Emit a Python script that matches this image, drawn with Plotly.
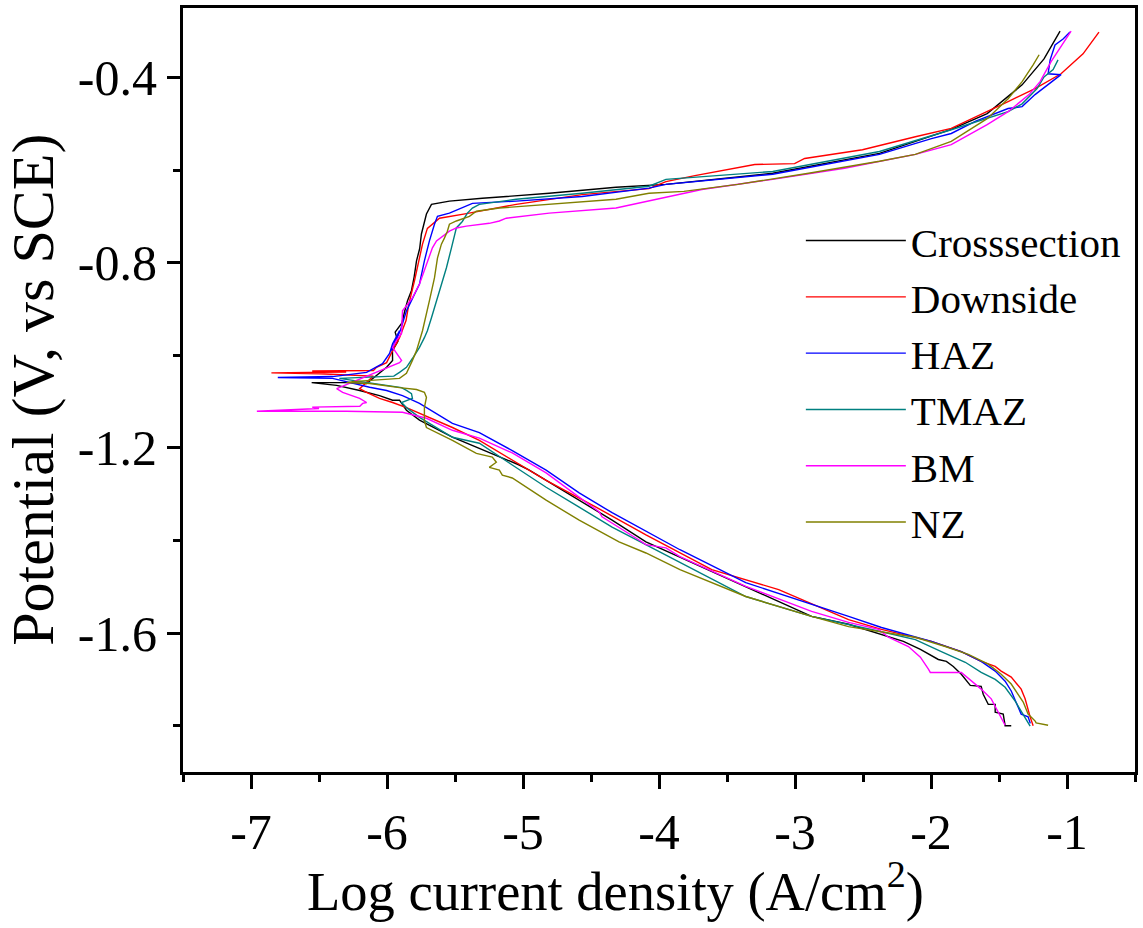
import plotly.graph_objects as go

# ---- data (log current density, potential) ----
names = ["Crosssection", "Downside", "HAZ", "TMAZ", "BM", "NZ"]
colors = ["#000000", "#FF0000", "#0000FF", "#008080", "#FF00FF", "#808000"]

cross_x = [-1.41, -1.455, -1.469, -1.528, -1.528, -1.579, -1.616, -1.631, -1.711, -1.777, -1.836, -1.887,
           -1.946, -2.078, -2.203, -2.606, -2.878, -3.612, -4.096, -4.345, -4.587, -4.954, -5.028, -5.519,
           -5.761, -5.857, -5.908, -5.959, -6.055, -6.201, -6.37, -6.554, -6.3, -6.15, -6.003, -5.959,
           -5.96, -5.92, -5.94, -5.89, -5.87, -5.849, -5.82, -5.80, -5.783, -5.76, -5.747, -5.71,
           -5.673, -5.541, -5.299, -4.807, -4.316, -3.949, -3.164, -2.379, -1.851, -1.587, -1.330,
           -1.169, -1.051]
cross_y = [-1.800, -1.800, -1.775, -1.771, -1.754, -1.754, -1.732, -1.715, -1.713, -1.689, -1.672, -1.661,
           -1.657, -1.635, -1.618, -1.581, -1.564, -1.468, -1.403, -1.356, -1.313, -1.248, -1.237, -1.177,
           -1.140, -1.119, -1.097, -1.097, -1.087, -1.076, -1.065, -1.059, -1.059, -1.061, -1.026, -1.011,
           -0.990, -0.970, -0.950, -0.930, -0.905, -0.882, -0.860, -0.830, -0.796, -0.770, -0.738, -0.695,
           -0.674, -0.667, -0.661, -0.650, -0.637, -0.631, -0.607, -0.564, -0.512, -0.478, -0.416,
           -0.360, -0.300]

down_x = [-1.249, -1.271, -1.308, -1.337, -1.410, -1.484, -1.528, -1.631, -1.777, -1.997, -2.364, -2.606,
          -3.120, -3.612, -4.096, -4.463, -4.830, -5.321, -5.519, -5.857, -5.959, -6.055, -6.150, -6.201,
          -6.10, -6.50, -6.85, -6.30, -6.55, -6.10, -6.077, -6.003, -5.959, -5.908, -5.86, -5.84, -5.798,
          -5.77, -5.739, -5.703, -5.614, -5.416, -5.050, -4.565, -4.074, -3.949, -3.736, -3.296, -3.003,
          -2.929, -2.504, -2.115, -1.851, -1.433, -1.235, -1.044, -0.882, -0.765]
down_y = [-1.800, -1.781, -1.742, -1.721, -1.695, -1.682, -1.672, -1.661, -1.640, -1.618, -1.592, -1.571,
          -1.506, -1.463, -1.388, -1.328, -1.270, -1.184, -1.156, -1.113, -1.102, -1.093, -1.080, -1.072,
          -1.045, -1.040, -1.038, -1.036, -1.034, -1.033, -1.026, -1.016, -0.990, -0.962, -0.925, -0.890,
          -0.839, -0.800, -0.760, -0.726, -0.704, -0.694, -0.674, -0.653, -0.640, -0.625, -0.612, -0.588,
          -0.586, -0.575, -0.556, -0.528, -0.510, -0.452, -0.424, -0.392, -0.349, -0.302]

haz_x = [-1.27, -1.286, -1.337, -1.374, -1.410, -1.455, -1.528, -1.631, -1.777, -1.997, -2.364, -2.606,
         -2.878, -3.362, -3.846, -4.345, -4.587, -4.830, -5.079, -5.321, -5.519, -5.761, -5.813, -5.886,
         -6.003, -6.128, -6.40, -6.803, -6.40, -6.150, -6.033, -5.981, -5.959, -5.908, -5.967, -5.90,
         -5.857, -5.761, -5.725, -5.688, -5.651, -5.629, -5.541, -5.416, -5.372, -5.050, -4.565, -4.074,
         -3.949, -3.164, -2.379, -1.997, -1.851, -1.675, -1.433, -1.330, -1.235, -1.044, -1.139, -1.124,
         -1.088, -1.029, -0.978]
haz_y = [-1.795, -1.781, -1.775, -1.749, -1.725, -1.704, -1.682, -1.661, -1.640, -1.618, -1.588, -1.564,
         -1.538, -1.491, -1.420, -1.340, -1.297, -1.248, -1.206, -1.167, -1.147, -1.104, -1.097, -1.087,
         -1.076, -1.069, -1.050, -1.048, -1.046, -1.037, -1.018, -0.996, -0.975, -0.947, -0.990, -0.945,
         -0.904, -0.846, -0.796, -0.753, -0.717, -0.700, -0.693, -0.678, -0.672, -0.667, -0.657, -0.639,
         -0.631, -0.609, -0.566, -0.532, -0.521, -0.495, -0.467, -0.463, -0.437, -0.394, -0.392, -0.362,
         -0.330, -0.317, -0.302]

tmaz_x = [-1.271, -1.322, -1.381, -1.455, -1.528, -1.631, -1.748, -1.924, -2.115, -2.364, -2.606, -2.878,
          -3.362, -3.846, -4.345, -4.587, -4.830, -5.079, -5.321, -5.519, -5.761, -5.857, -5.893, -5.813,
          -5.820, -5.857, -5.893, -6.35, -5.95, -5.908, -5.857, -5.813, -5.761, -5.725, -5.703, -5.673,
          -5.614, -5.563, -5.526, -5.504, -5.490, -5.446, -5.409, -5.372, -5.321, -5.050, -4.565, -4.074,
          -3.949, -3.164, -2.379, -1.851, -1.587, -1.433, -1.330, -1.220, -1.169, -1.102, -1.066]
tmaz_y = [-1.801, -1.775, -1.747, -1.717, -1.700, -1.685, -1.663, -1.640, -1.614, -1.597, -1.581, -1.564,
          -1.521, -1.448, -1.371, -1.328, -1.285, -1.237, -1.190, -1.177, -1.134, -1.113, -1.102, -1.093,
          -1.083, -1.076, -1.070, -1.050, -1.045, -1.037, -1.026, -1.007, -0.983, -0.962, -0.947, -0.919,
          -0.861, -0.811, -0.768, -0.738, -0.725, -0.711, -0.693, -0.682, -0.674, -0.663, -0.650, -0.635,
          -0.620, -0.603, -0.560, -0.513, -0.489, -0.474, -0.457, -0.424, -0.399, -0.383, -0.362]

bm_x = [-1.455, -1.491, -1.557, -1.631, -1.704, -1.763, -1.777, -2.005, -2.019, -2.078, -2.166, -2.313,
        -2.386, -2.606, -2.878, -3.362, -3.846, -3.949, -4.096, -4.147, -4.294, -4.419, -4.441, -4.587,
        -4.830, -5.079, -5.321, -5.519, -5.710, -5.886, -6.30, -6.957, -6.50, -6.55, -6.20, -6.179,
        -6.150, -6.201, -6.253, -6.326, -6.370, -5.908, -5.893, -5.930, -5.959, -5.930, -5.893, -5.886,
        -5.813, -5.761, -5.710, -5.666, -5.636, -5.563, -5.541, -5.490, -5.416, -5.248, -5.174, -5.123,
        -4.807, -4.316, -4.074, -3.685, -3.164, -2.636, -2.115, -1.851, -1.587, -1.433, -1.279, -1.198,
        -1.117, -1.014, -0.970]
bm_y = [-1.799, -1.779, -1.742, -1.721, -1.704, -1.689, -1.685, -1.685, -1.678, -1.652, -1.629, -1.609,
        -1.592, -1.577, -1.553, -1.499, -1.435, -1.416, -1.409, -1.399, -1.371, -1.349, -1.338, -1.306,
        -1.254, -1.211, -1.179, -1.162, -1.136, -1.123, -1.121, -1.121, -1.115, -1.112, -1.110, -1.104,
        -1.102, -1.093, -1.087, -1.080, -1.072, -1.016, -1.011, -0.996, -0.983, -0.968, -0.953, -0.904,
        -0.876, -0.846, -0.803, -0.768, -0.753, -0.738, -0.732, -0.725, -0.721, -0.715, -0.710, -0.704,
        -0.693, -0.682, -0.667, -0.642, -0.620, -0.596, -0.566, -0.545, -0.502, -0.474, -0.437, -0.409,
        -0.366, -0.319, -0.300]

nz_x = [-1.139, -1.227, -1.234, -1.286, -1.322, -1.359, -1.410, -1.484, -1.579, -1.726, -1.895, -2.115,
        -2.364, -2.606, -2.878, -3.362, -3.846, -4.096, -4.294, -4.587, -4.830, -5.006, -5.079, -5.152,
        -5.174, -5.248, -5.196, -5.226, -5.343, -5.519, -5.666, -5.710, -5.725, -5.725, -5.710, -5.725,
        -5.783, -5.908, -6.128, -6.297, -6.253, -6.003, -5.908, -5.857, -5.835, -5.813, -5.783, -5.761,
        -5.739, -5.688, -5.651, -5.629, -5.600, -5.578, -5.556, -5.541, -5.490, -5.394, -5.343, -5.174,
        -4.807, -4.316, -4.074, -3.817, -3.421, -2.900, -2.379, -2.115, -1.851, -1.587, -1.433, -1.330,
        -1.249, -1.205]
nz_y = [-1.799, -1.794, -1.790, -1.775, -1.749, -1.732, -1.710, -1.689, -1.667, -1.646, -1.629, -1.609,
        -1.597, -1.586, -1.564, -1.521, -1.463, -1.427, -1.403, -1.356, -1.313, -1.280, -1.265, -1.259,
        -1.248, -1.242, -1.231, -1.220, -1.212, -1.184, -1.162, -1.156, -1.141, -1.113, -1.091, -1.080,
        -1.074, -1.070, -1.061, -1.059, -1.057, -1.052, -1.050, -1.039, -1.026, -1.011, -0.990, -0.968,
        -0.947, -0.882, -0.833, -0.790, -0.760, -0.747, -0.732, -0.717, -0.710, -0.700, -0.689, -0.682,
        -0.674, -0.663, -0.650, -0.646, -0.631, -0.607, -0.581, -0.566, -0.538, -0.489, -0.446, -0.409,
        -0.373, -0.351]

xs = [cross_x, down_x, haz_x, tmaz_x, bm_x, nz_x]
ys = [cross_y, down_y, haz_y, tmaz_y, bm_y, nz_y]

x_tickvals = [-7, -6, -5, -4, -3, -2, -1]
x_ticktext = ["-7", "-6", "-5", "-4", "-3", "-2", "-1"]
y_tickvals = [-1.6, -1.2, -0.8, -0.4]
y_ticktext = ["-1.6", "-1.2", "-0.8", "-0.4"]

x_title = "Log current density (A/cm<sup>2</sup>)"
y_title = "Potential (V, vs SCE)"

FONT = "Liberation Serif, Times New Roman, serif"

fig = go.Figure()
for n, c, x, y in zip(names, colors, xs, ys):
    fig.add_trace(go.Scatter(x=x, y=y, mode="lines", name=n,
                             line=dict(color=c, width=1.4)))

fig.update_layout(
    width=1143, height=928,
    margin=dict(l=183, r=6, t=5, b=156),
    paper_bgcolor="white", plot_bgcolor="white",
    font=dict(family=FONT, color="black"),
    showlegend=True,
    legend=dict(x=0.649, y=0.739, xanchor="left", yanchor="top",
                font=dict(size=41, family=FONT, color="black"),
                bgcolor="rgba(0,0,0,0)", borderwidth=0,
                itemwidth=100, tracegroupgap=0),
    xaxis=dict(range=[-7.5, -0.5], tickmode="array", tickvals=x_tickvals, ticktext=x_ticktext,
               ticks="outside", ticklen=14, tickwidth=2.5, tickcolor="black",
               minor=dict(dtick=0.5, tick0=-7.5, ticks="outside", ticklen=7, tickwidth=2.5, tickcolor="black"),
               showline=True, linewidth=3, linecolor="black", mirror=True,
               showgrid=False, zeroline=False,
               tickfont=dict(size=50, family=FONT, color="black")),
    yaxis=dict(range=[-1.9, -0.25], tickmode="array", tickvals=y_tickvals, ticktext=y_ticktext,
               ticks="outside", ticklen=13, tickwidth=2.5, tickcolor="black",
               minor=dict(dtick=0.2, tick0=-1.8, ticks="outside", ticklen=7, tickwidth=2.5, tickcolor="black"),
               showline=True, linewidth=3, linecolor="black", mirror=True,
               showgrid=False, zeroline=False,
               tickfont=dict(size=50, family=FONT, color="black")),
    annotations=[
        dict(text=x_title, xref="paper", yref="paper", x=0.1279, y=-0.1995,
             xanchor="left", yanchor="bottom", showarrow=False,
             font=dict(size=54.5, family=FONT, color="black")),
        dict(text=y_title, xref="paper", yref="paper", x=-0.1572, y=0.5007,
             xanchor="center", yanchor="middle", textangle=-90, showarrow=False,
             font=dict(size=60, family=FONT, color="black")),
    ],
)

fig.write_html("out.html")
